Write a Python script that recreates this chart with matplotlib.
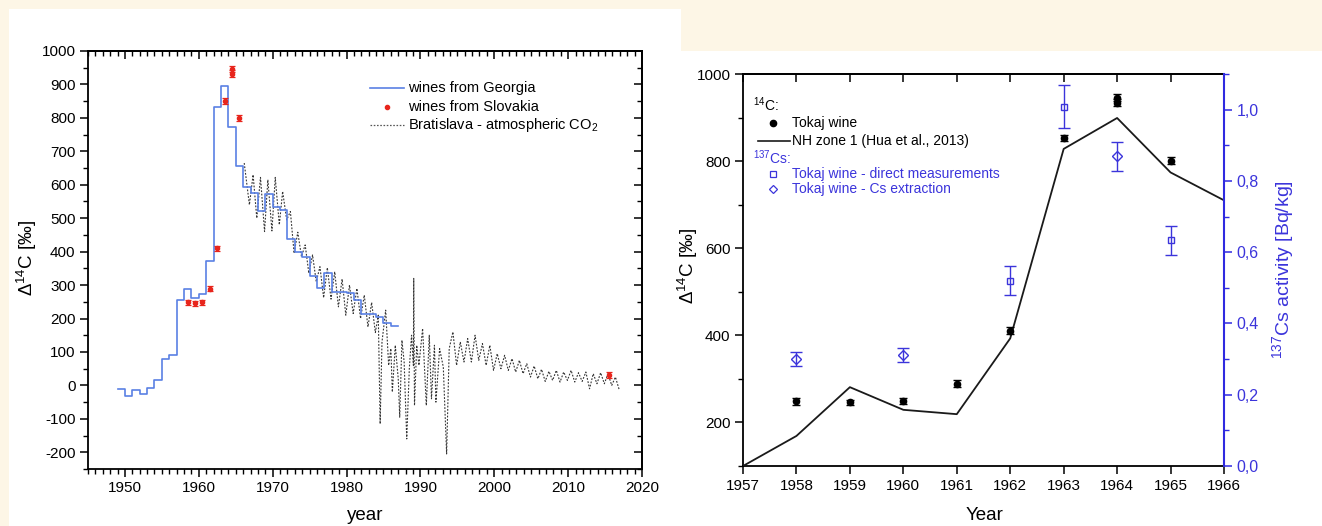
import matplotlib
matplotlib.use('Agg')
import matplotlib.pyplot as plt
from matplotlib.lines import Line2D
from matplotlib.patches import Rectangle
from matplotlib.ticker import MultipleLocator, FuncFormatter

plt.rcParams['font.family'] = ['Liberation Sans', 'DejaVu Sans']
plt.rcParams['mathtext.default'] = 'regular'
plt.rcParams['axes.unicode_minus'] = False

# ---------------- data: left panel ----------------
georgia_years = list(range(1949, 1987))
georgia_vals = [-10, -32, -13, -25, -7, 17, 80, 90, 255, 288, 262, 274, 373,
                832, 895, 774, 656, 592, 576, 522, 572, 532, 526, 438, 400,
                384, 327, 292, 336, 280, 280, 276, 255, 214, 214, 204, 186, 177]
georgia_end = 1987

slovakia_years = [1958.5, 1959.5, 1960.5, 1961.5, 1962.5, 1963.5, 1964.5, 1964.5, 1965.5, 2015.5]
slovakia_vals = [248, 245, 248, 289, 410, 851, 932, 946, 800, 31]
slovakia_err = [8, 7, 8, 8, 8, 8, 10, 10, 8, 10]

brat_years = [1966.15, 1966.85, 1967.35, 1967.85, 1968.35, 1968.9, 1969.35, 1969.9,
              1970.35, 1970.9, 1971.35, 1971.9, 1972.4, 1972.9, 1973.4, 1973.9,
              1974.4, 1974.9, 1975.4, 1975.9, 1976.4, 1976.9, 1977.4, 1977.9,
              1978.4, 1978.9, 1979.4, 1979.9, 1980.4, 1980.9, 1981.4, 1981.9,
              1982.4, 1982.9, 1983.4, 1983.9, 1984.3, 1984.55, 1984.8, 1985.3,
              1985.7, 1986.0, 1986.2, 1986.6, 1987.0, 1987.2, 1987.5, 1987.8,
              1988.15, 1988.5, 1988.8, 1989.05, 1989.1, 1989.2, 1989.5, 1989.8,
              1990.3, 1990.8, 1991.2, 1991.5, 1991.9, 1992.1, 1992.6, 1993.1,
              1993.55, 1993.9, 1994.4, 1994.9, 1995.4, 1995.9, 1996.4, 1996.9,
              1997.4, 1997.9, 1998.4, 1998.9, 1999.4, 1999.9, 2000.4, 2000.9,
              2001.4, 2001.9, 2002.4, 2002.9, 2003.4, 2003.9, 2004.4, 2004.9,
              2005.4, 2005.9, 2006.4, 2006.9, 2007.4, 2007.9, 2008.4, 2008.9,
              2009.4, 2009.9, 2010.4, 2010.9, 2011.4, 2011.9, 2012.4, 2012.9,
              2013.4, 2013.9, 2014.4, 2014.9, 2015.4, 2015.9, 2016.4, 2016.9]
brat_vals = [665, 540, 630, 500, 622, 460, 615, 462,
             622, 480, 580, 495, 520, 395, 458, 385,
             420, 335, 390, 310, 355, 262, 352, 258,
             340, 235, 318, 210, 300, 215, 290, 200,
             270, 175, 248, 158, 210, -115, 130, 225,
             60, 110, -20, 120, 20, -95, 135, 70,
             -160, 50, 150, 60, 320, -60, 120, 60,
             170, -60, 150, -40, 120, -50, 110, 55,
             -205, 110, 160, 60, 130, 70, 140, 70,
             150, 75, 125, 60, 120, 45, 95, 50,
             90, 45, 80, 40, 75, 35, 65, 25,
             58, 20, 48, 12, 42, 15, 45, 10,
             40, 15, 45, 10, 38, 12, 40, -10,
             35, 5, 38, 5, 35, 0, 25, -12]

# ---------------- data: right panel ----------------
tokaj_years = [1958, 1959, 1960, 1961, 1962, 1963, 1964, 1964, 1965]
tokaj_vals = [249, 246, 250, 289, 410, 853, 934, 946, 801]
tokaj_err = [8, 6, 7, 8, 8, 7, 8, 8, 8]

nh_years = [1957, 1958, 1959, 1960, 1961, 1962, 1963, 1964, 1965, 1966]
nh_vals = [100, 169, 281, 229, 219, 393, 828, 899, 774, 710]

cs_direct_years = [1962, 1963, 1965]
cs_direct_vals = [0.52, 1.008, 0.633]
cs_direct_err = [0.04, 0.06, 0.04]

cs_extr_years = [1958, 1960, 1964]
cs_extr_vals = [0.301, 0.311, 0.869]
cs_extr_err = [0.02, 0.02, 0.04]

# ---------------- styling ----------------
W, H = 1322, 526
CREAM = '#fdf6e6'
BLUE_LINE = '#5a80e4'
RED = '#e8251c'
CS_BLUE = '#3b34db'
SPINE_BLUE = '#2f2ae0'


def fx(px):
    return px / W


def fy(py):
    return 1 - py / H


fig = plt.figure(figsize=(W / 100, H / 100), dpi=100)
fig.patch.set_facecolor(CREAM)
fig.add_artist(Rectangle((fx(9), 0), fx(681) - fx(9), 1 - 9 / H,
                         transform=fig.transFigure, facecolor='white',
                         edgecolor='none', zorder=-5))
fig.add_artist(Rectangle((fx(681), 0), 1 - fx(681), 1 - 51 / H,
                         transform=fig.transFigure, facecolor='white',
                         edgecolor='none', zorder=-5))

# ================= left panel =================
ax1 = fig.add_axes([fx(88), fy(469), (642 - 88) / W, (469 - 51) / H])
ax1.step(georgia_years + [georgia_end], georgia_vals + [georgia_vals[-1]],
         where='post', color=BLUE_LINE, lw=1.2, zorder=3)
ax1.plot(brat_years, brat_vals, color='#333333', lw=0.8,
         ls=(0, (1.6, 1.4)), zorder=2)
ax1.errorbar(slovakia_years, slovakia_vals, yerr=slovakia_err, fmt='o',
             ms=3, color=RED, ecolor=RED, elinewidth=0.9, capsize=2.5,
             capthick=0.9, zorder=4)

ax1.set_xlim(1945, 2020)
ax1.set_ylim(-250, 1000)
ax1.xaxis.set_major_locator(MultipleLocator(10))
ax1.xaxis.set_minor_locator(MultipleLocator(1))
ax1.yaxis.set_major_locator(MultipleLocator(100))
ax1.yaxis.set_minor_locator(MultipleLocator(50))
ax1.tick_params(which='major', direction='out', length=6, width=1.1,
                labelsize=11, pad=3)
ax1.tick_params(which='minor', direction='out', length=3.5, width=1.0)
for s in ax1.spines.values():
    s.set_linewidth(1.3)

sx1 = ax1.secondary_xaxis('top')
sx1.xaxis.set_major_locator(MultipleLocator(10))
sx1.xaxis.set_minor_locator(MultipleLocator(1))
sx1.tick_params(which='major', direction='in', length=6, width=1.1, labeltop=False)
sx1.tick_params(which='minor', direction='in', length=3.5, width=1.0)
sx1.spines['top'].set_linewidth(1.3)

sy1 = ax1.secondary_yaxis('right')
sy1.yaxis.set_major_locator(MultipleLocator(100))
sy1.yaxis.set_minor_locator(MultipleLocator(50))
sy1.tick_params(which='major', direction='in', length=6, width=1.1, labelright=False)
sy1.tick_params(which='minor', direction='in', length=3.5, width=1.0)
sy1.spines['right'].set_linewidth(1.3)

fig.text(fx(365), fy(515), 'year', ha='center', va='center', fontsize=13.5)
fig.text(fx(27), fy(258), r'$\Delta^{14}$C [‰]', ha='center', va='center',
         rotation=90, fontsize=13.5)

# left legend (manual)
fig.add_artist(Line2D([fx(370), fx(404)], [fy(88), fy(88)], color=BLUE_LINE, lw=1.2,
                      transform=fig.transFigure))
fig.add_artist(Line2D([fx(387)], [fy(107)], color=RED, marker='o', ms=3, ls='none',
                      transform=fig.transFigure))
fig.add_artist(Line2D([fx(370), fx(404)], [fy(125), fy(125)], color='#555555', lw=0.9,
                      ls=(0, (1.3, 1.3)), transform=fig.transFigure))
fig.text(fx(408), fy(88), 'wines from Georgia', va='center', fontsize=10.5)
fig.text(fx(408), fy(107), 'wines from Slovakia', va='center', fontsize=10.5)
fig.text(fx(408), fy(125), 'Bratislava - atmospheric CO$_2$', va='center', fontsize=10.5)

# ================= right panel =================
ax2 = fig.add_axes([fx(743), fy(466), (1224 - 743) / W, (466 - 74) / H])
ax2.plot(nh_years, nh_vals, color='#1a1a1a', lw=1.3, zorder=3)
ax2.errorbar(tokaj_years, tokaj_vals, yerr=tokaj_err, fmt='o', ms=4.5,
             color='black', ecolor='black', elinewidth=1.0, capsize=3,
             capthick=1.0, zorder=4)
ax2.set_xlim(1957, 1966)
ax2.set_ylim(100, 1000)
ax2.xaxis.set_major_locator(MultipleLocator(1))
ax2.yaxis.set_major_locator(MultipleLocator(200))
ax2.yaxis.set_minor_locator(MultipleLocator(100))
ax2.tick_params(which='major', direction='out', length=6, width=1.1,
                labelsize=11, pad=3)
ax2.tick_params(which='minor', direction='out', length=3.5, width=1.0)
for s in ax2.spines.values():
    s.set_linewidth(1.3)
ax2.spines['right'].set_visible(False)

sx2 = ax2.secondary_xaxis('top')
sx2.xaxis.set_major_locator(MultipleLocator(1))
sx2.tick_params(which='major', direction='in', length=6, width=1.1, labeltop=False)
sx2.spines['top'].set_linewidth(1.3)

ax3 = ax2.twinx()
ax3.errorbar(cs_direct_years, cs_direct_vals, yerr=cs_direct_err, fmt='s', ms=5,
             mfc='none', mec=CS_BLUE, mew=1.0, ecolor=CS_BLUE, elinewidth=1.0,
             capsize=4, capthick=1.0, zorder=4)
ax3.errorbar(cs_extr_years, cs_extr_vals, yerr=cs_extr_err, fmt='D', ms=5,
             mfc='none', mec=CS_BLUE, mew=1.0, ecolor=CS_BLUE, elinewidth=1.0,
             capsize=4, capthick=1.0, zorder=4)
ax3.set_ylim(0, 1.1)
ax3.yaxis.set_major_locator(MultipleLocator(0.2))
ax3.yaxis.set_minor_locator(MultipleLocator(0.1))
ax3.yaxis.set_major_formatter(FuncFormatter(lambda v, p: f'{v:.1f}'.replace('.', ',')))
ax3.tick_params(axis='y', which='major', direction='out', length=6, width=1.1,
                labelsize=11.5, colors=SPINE_BLUE, labelcolor=CS_BLUE, pad=3)
ax3.tick_params(axis='y', which='minor', direction='out', length=3.5, width=1.0,
                colors=SPINE_BLUE)
for name, s in ax3.spines.items():
    s.set_visible(name == 'right')
ax3.spines['right'].set_color(SPINE_BLUE)
ax3.spines['right'].set_linewidth(1.5)

fig.text(fx(985), fy(515), 'Year', ha='center', va='center', fontsize=13.5)
fig.text(fx(688), fy(266), r'$\Delta^{14}$C [‰]', ha='center', va='center',
         rotation=90, fontsize=13.5)
fig.text(fx(1283), fy(270), r'$^{137}$Cs activity [Bq/kg]', ha='center', va='center',
         rotation=90, fontsize=14, color=CS_BLUE)

# right legend (manual)
LF = 10
fig.text(fx(753), fy(105), r'$^{14}$C:', va='center', fontsize=LF)
fig.add_artist(Line2D([fx(773)], [fy(123)], color='black', marker='o', ms=4.5, ls='none',
                      transform=fig.transFigure))
fig.text(fx(792), fy(123), 'Tokaj wine', va='center', fontsize=LF)
fig.add_artist(Line2D([fx(758), fx(790)], [fy(141), fy(141)], color='#1a1a1a', lw=1.2,
                      transform=fig.transFigure))
fig.text(fx(792), fy(141), 'NH zone 1 (Hua et al., 2013)', va='center', fontsize=LF)
fig.text(fx(753), fy(158), r'$^{137}$Cs:', va='center', fontsize=LF, color=CS_BLUE)
fig.add_artist(Line2D([fx(773)], [fy(174)], color=CS_BLUE, marker='s', ms=4, mfc='none',
                      mew=0.9, ls='none', transform=fig.transFigure))
fig.text(fx(792), fy(174), 'Tokaj wine - direct measurements', va='center',
         fontsize=LF, color=CS_BLUE)
fig.add_artist(Line2D([fx(773)], [fy(189)], color=CS_BLUE, marker='D', ms=4, mfc='none',
                      mew=0.9, ls='none', transform=fig.transFigure))
fig.text(fx(792), fy(189), 'Tokaj wine - Cs extraction', va='center',
         fontsize=LF, color=CS_BLUE)

fig.savefig('out.png', dpi=100, facecolor=fig.get_facecolor())
